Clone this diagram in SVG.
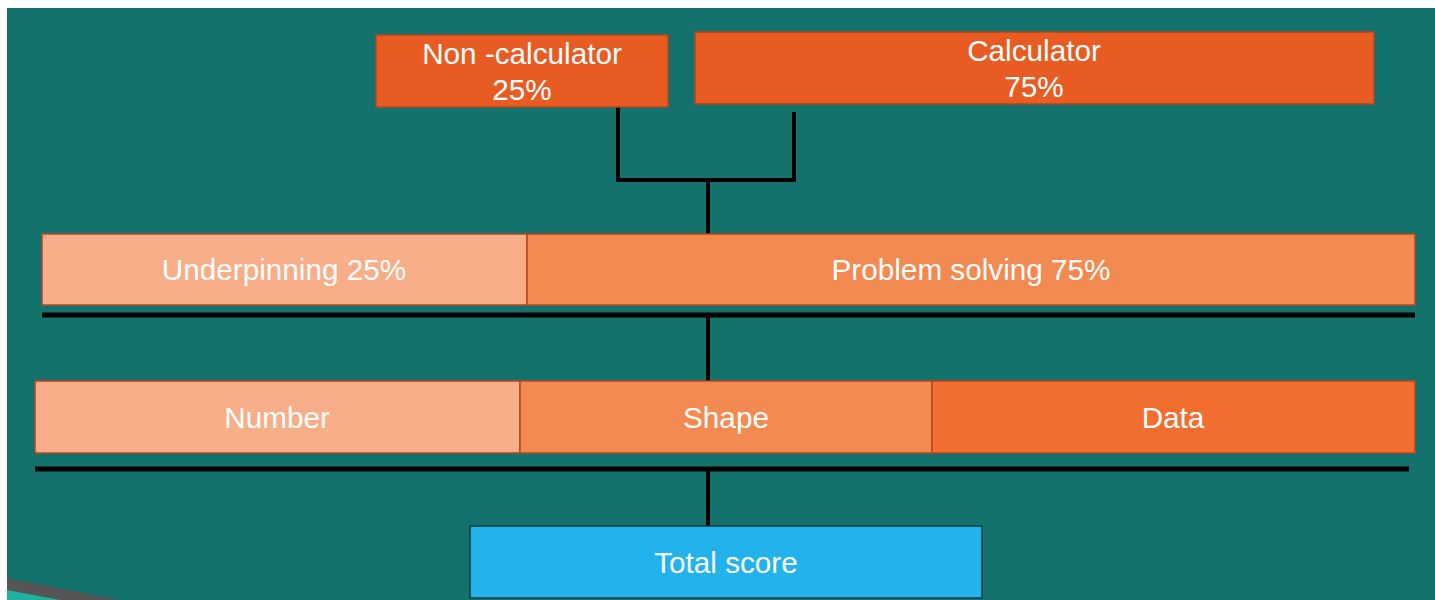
<svg xmlns="http://www.w3.org/2000/svg" width="1435" height="600" viewBox="0 0 1435 600">
<style>
.box{stroke:#B4471D;stroke-width:1.5}
.t{font-family:"Liberation Sans",Arial,sans-serif;font-size:29.7px;fill:#FFFFFF;text-anchor:middle}
.c{stroke:#000;stroke-width:4;fill:none}
.bar{stroke:#000;stroke-width:5}
</style>
<rect x="0" y="0" width="1435" height="600" fill="#FFFFFF"/>
<rect x="7" y="8" width="1428" height="592" fill="#13726C"/>
<polygon points="7,578 120,600 7,600" fill="#555555"/>
<polygon points="7,590 60,600 7,600" fill="#1FB0A0"/>
<g id="connectors">
<polyline class="c" points="618,107 618,180 794,180 794,112"/>
<line class="c" x1="708" y1="180" x2="708" y2="234"/>
<line class="bar" x1="42" y1="315" x2="1415" y2="315"/>
<line class="c" x1="708" y1="317" x2="708" y2="381"/>
<line class="bar" x1="35" y1="469" x2="1409" y2="469"/>
<line class="c" x1="708" y1="471" x2="708" y2="526"/>
</g>
<g id="noncalc">
<rect class="box" x="376" y="35" width="292" height="72" fill="#E85C24"/>
<text class="t" x="522" y="64">Non -calculator</text>
<text class="t" x="522" y="100">25%</text>
</g>
<g id="calc">
<rect class="box" x="695" y="32" width="679" height="72" fill="#E85C24"/>
<text class="t" x="1034" y="61">Calculator</text>
<text class="t" x="1034" y="97">75%</text>
</g>
<g id="underpinning">
<rect class="box" x="42" y="234" width="485" height="71" fill="#F8AE88"/>
<text class="t" x="284" y="280">Underpinning 25%</text>
</g>
<g id="problem">
<rect class="box" x="527" y="234" width="888" height="71" fill="#F38A51"/>
<text class="t" x="971" y="280">Problem solving 75%</text>
</g>
<g id="number">
<rect class="box" x="35" y="381" width="485" height="72" fill="#F8AE88"/>
<text class="t" x="277" y="428">Number</text>
</g>
<g id="shape">
<rect class="box" x="520" y="381" width="412" height="72" fill="#F38A51"/>
<text class="t" x="726" y="428">Shape</text>
</g>
<g id="data">
<rect class="box" x="932" y="381" width="483" height="72" fill="#F26E30"/>
<text class="t" x="1173" y="428">Data</text>
</g>
<g id="total">
<rect x="470" y="526" width="512" height="72" fill="#22B2EC" stroke="#0B3A40" stroke-width="1.5"/>
<text class="t" x="726" y="573">Total score</text>
</g>
</svg>
